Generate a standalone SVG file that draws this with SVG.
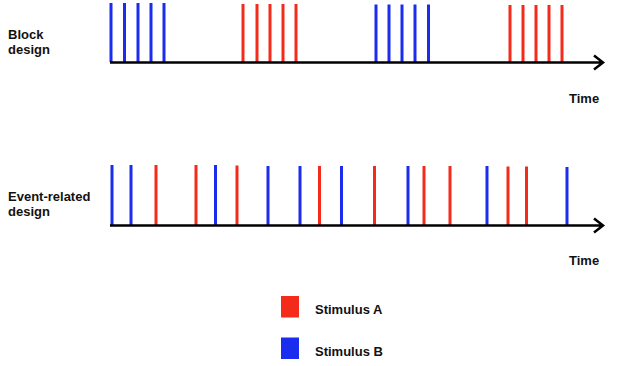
<svg xmlns="http://www.w3.org/2000/svg" width="620" height="366" viewBox="0 0 620 366">
<style>
text{font-family:"Liberation Sans",Arial,sans-serif;font-weight:bold;font-size:13px;fill:#111}
.a{stroke:#f42a1a;stroke-width:3}
.b{stroke:#1a2cee;stroke-width:3}
.ax{stroke:#000;stroke-width:2.5;fill:none}
</style>
<rect width="620" height="366" fill="#fff"/>
<g id="block-labels">
<text x="8" y="39">Block</text>
<text x="8" y="54">design</text>
<text x="569" y="103">Time</text>
</g>
<g id="block-stimuli">
<g class="b"><line x1="111" y1="3" x2="111" y2="62"/><line x1="124.5" y1="3" x2="124.5" y2="62"/><line x1="138" y1="3" x2="138" y2="62"/><line x1="151" y1="3" x2="151" y2="62"/><line x1="164" y1="3" x2="164" y2="62"/>
<line x1="376" y1="4.5" x2="376" y2="62"/><line x1="389" y1="4.5" x2="389" y2="62"/><line x1="402" y1="4.5" x2="402" y2="62"/><line x1="415" y1="4.5" x2="415" y2="62"/><line x1="428.5" y1="4.5" x2="428.5" y2="62"/></g>
<g class="a"><line x1="243" y1="4" x2="243" y2="62"/><line x1="257" y1="4" x2="257" y2="62"/><line x1="270" y1="4" x2="270" y2="62"/><line x1="283" y1="4" x2="283" y2="62"/><line x1="296" y1="4" x2="296" y2="62"/>
<line x1="510" y1="5" x2="510" y2="62"/><line x1="523" y1="5" x2="523" y2="62"/><line x1="536" y1="5" x2="536" y2="62"/><line x1="549" y1="5" x2="549" y2="62"/><line x1="562" y1="5" x2="562" y2="62"/></g>
</g>
<g id="event-labels">
<text x="8" y="201">Event-related</text>
<text x="8" y="216">design</text>
<text x="569" y="265">Time</text>
</g>
<g id="event-stimuli">
<g class="b"><line x1="112" y1="165" x2="112" y2="225"/><line x1="131" y1="165" x2="131" y2="225"/><line x1="215.5" y1="165" x2="215.5" y2="225"/><line x1="268" y1="166" x2="268" y2="225"/><line x1="300" y1="166" x2="300" y2="225"/><line x1="341.5" y1="166" x2="341.5" y2="225"/><line x1="408" y1="166" x2="408" y2="225"/><line x1="487" y1="166" x2="487" y2="225"/><line x1="567" y1="167" x2="567" y2="225"/></g>
<g class="a"><line x1="156" y1="165" x2="156" y2="225"/><line x1="196" y1="165" x2="196" y2="225"/><line x1="237" y1="165.5" x2="237" y2="225"/><line x1="319.5" y1="166" x2="319.5" y2="225"/><line x1="374.5" y1="166" x2="374.5" y2="225"/><line x1="424" y1="166" x2="424" y2="225"/><line x1="450" y1="166" x2="450" y2="225"/><line x1="508" y1="166.5" x2="508" y2="225"/><line x1="526.5" y1="166.5" x2="526.5" y2="225"/></g>
</g>
<g id="connectors">
<path class="ax" d="M110 62.5H602M594 55.5L603 62.5L594 69.5"/>
<path class="ax" d="M110 225.5H602M594 218.5L603 225.5L594 232.5"/>
</g>
<g id="legend">
<rect x="281" y="296" width="18" height="21.5" fill="#f42a1a"/>
<text x="315" y="314">Stimulus A</text>
<rect x="281" y="337.5" width="18" height="21.5" fill="#1a2cee"/>
<text x="315" y="356">Stimulus B</text>
</g>
</svg>
